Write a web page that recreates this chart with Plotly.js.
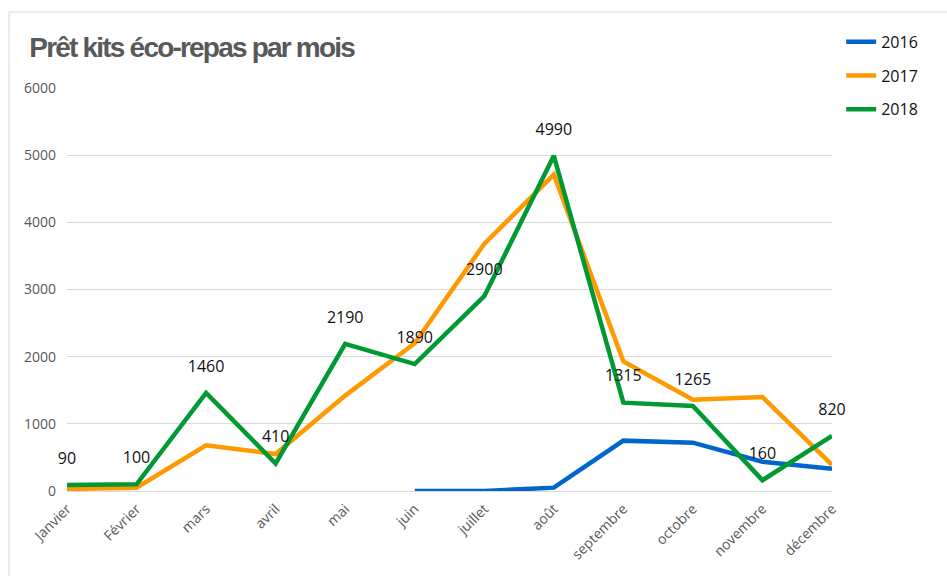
<!DOCTYPE html>
<html>
<head>
<meta charset="utf-8">
<script src="https://cdn.plot.ly/plotly-3.0.1.min.js"></script>
<style>
  html, body { margin: 0; padding: 0; background: #fff; }
  #myPlot { width: 947px; height: 576px; }
  /* titre serré comme dans Excel */
  #myPlot .gtitle { letter-spacing: -1.8px; }
</style>
</head>
<body>
<div id="myPlot"></div>
<script>
// ======================== Prêt kits éco-repas =========================
const mois = ["Janvier", "Février", "mars", "avril", "mai", "juin",
  "juillet", "août", "septembre", "octobre", "novembre", "décembre"];
const y2016 = [null, null, null, null, null, 0, 0, 50, 750, 720, 435, 330];
const y2017 = [30, 50, 680, 550, 1420, 2200, 3680, 4710, 1930, 1360, 1400, 390];
const y2018 = [90, 100, 1460, 410, 2190, 1890, 2900, 4990, 1315, 1265, 160, 820];
const annees = ["2016", "2017", "2018"];
const couleurs = ["#0066cc", "#ff9900", "#009933"];

const labelFont = {family: "Open Sans, sans-serif", size: 16, color: "#111"};

const data = [y2016, y2017, y2018].map((ys, i) => {
  const tr = {
    x: mois,
    y: ys,
    name: annees[i],
    legendgroup: annees[i],
    type: "scatter",
    mode: "lines",
    cliponaxis: false,
    line: {color: couleurs[i], width: 4.5},
    hoverinfo: "x+y+name"
  };
  if (i === 2) {
    // étiquettes au-dessus des points (marqueurs transparents pour le décalage)
    tr.mode = "lines+markers+text";
    tr.text = ys.map(String);
    tr.textposition = "top center";
    tr.textfont = labelFont;
    tr.marker = {size: 26, color: "rgba(0,0,0,0)", line: {width: 0}};
  }
  return tr;
});

const layout = {
  width: 947, height: 576,
  paper_bgcolor: "#fff", plot_bgcolor: "#fff",
  margin: {l: 67, r: 115, t: 88, b: 85},
  title: {
    text: "Prêt kits éco-repas par mois",
    font: {family: "Liberation Sans, Arial, sans-serif", size: 28, color: "#595959", weight: "bold"},
    xref: "container", yref: "container",
    x: 0.031, xanchor: "left", y: 0.918, yanchor: "middle"
  },
  xaxis: {
    type: "category",
    range: [0, 11],
    showgrid: false, zeroline: false, showline: false,
    tickangle: -45,
    ticklabelstandoff: 6,
    tickfont: {family: "Open Sans, sans-serif", size: 14, color: "#595959"}
  },
  yaxis: {
    range: [0, 6000],
    dtick: 1000,
    showgrid: true, gridcolor: "#d9d9d9", gridwidth: 1,
    zeroline: true, zerolinecolor: "#d9d9d9", zerolinewidth: 1,
    showline: false,
    ticklabelstandoff: 10,
    tickfont: {family: "Open Sans, sans-serif", size: 14, color: "#595959"}
  },
  showlegend: true,
  legend: {
    x: 1.012, xanchor: "left", y: 1.157, yanchor: "top",
    font: {family: "Open Sans, sans-serif", size: 16, color: "#111"},
    tracegroupgap: 10,
    bgcolor: "rgba(0,0,0,0)"
  },
  shapes: [{
    type: "rect", xref: "paper", yref: "paper",
    x0: (9 - 67) / 765, x1: (960 - 67) / 765,
    y0: (491 - 590) / 403, y1: (491 - 12) / 403,
    line: {color: "#d9d9d9", width: 1}, fillcolor: "rgba(0,0,0,0)", layer: "below"
  }]
};

Plotly.newPlot("myPlot", data, layout, {displayModeBar: false});
</script>
</body>
</html>
